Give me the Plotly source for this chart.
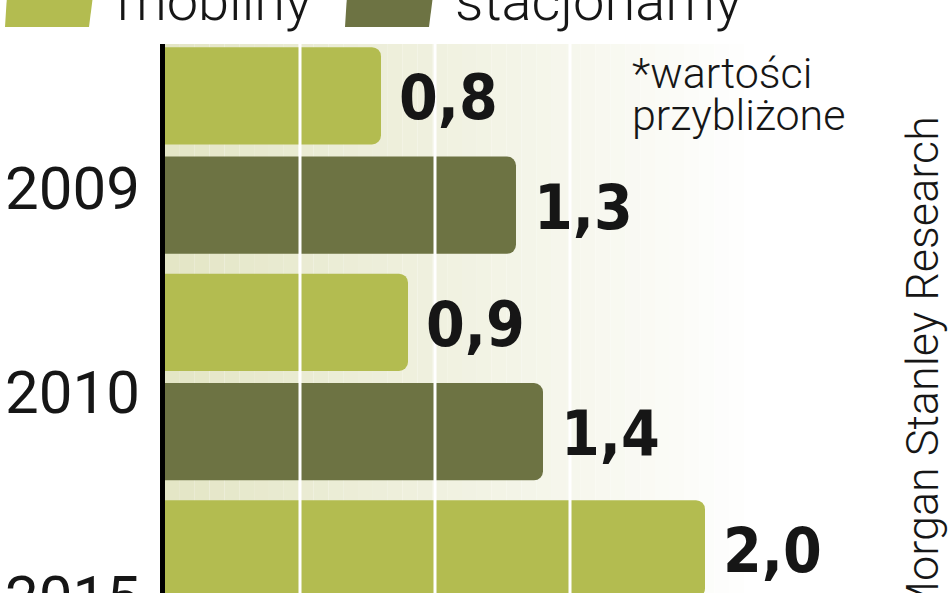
import plotly.graph_objects as go

# ---- data ----
years = ["2009", "2010", "2015"]
mobilny = [0.8, 0.9, 2.0]
stacjonarny = [1.3, 1.4, None]  # 2015 value lies outside the visible crop
series_names = ["mobilny", "stacjonarny"]
note_lines = ["*wartości", "przybliżone"]
source_text = "Morgan Stanley Research"
grid_values = [0.5, 1.0, 1.5]

# ---- layout constants ----
W, H = 948, 593
ML, MR, MT, MB = 165, 0, 44, 0
PW, PH = W - ML - MR, H - MT - MB
PX_PER_UNIT_X = 270.0
PX_PER_CAT = 226.5
TOP_OFFSET = 106.5  # px from plot top to first category centre
BARGAP, BARGROUPGAP = 0.035, 0.11

C_MOB = "#b3bc50"
C_STA = "#6d7343"
TXT = "#161616"
LIGHT_FONT = "Roboto, 'Open Sans', 'DejaVu Sans', sans-serif"
BOLD_FONT = "'Liberation Sans Narrow', 'DejaVu Sans Condensed', 'Roboto Condensed', sans-serif"


def px2paper_x(px):
    return (px - ML) / PW


def px2paper_y(py):
    return 1 - (py - MT) / PH


idx = list(range(len(years)))
y_top = -TOP_OFFSET / PX_PER_CAT
y_bot = y_top + PH / PX_PER_CAT

fig = go.Figure()
fig.add_trace(go.Bar(y=idx, x=mobilny, orientation="h", name=series_names[0],
                     marker=dict(color=C_MOB, cornerradius=9, line=dict(width=0)),
                     showlegend=False, hoverinfo="skip"))
fig.add_trace(go.Bar(y=idx, x=stacjonarny, orientation="h", name=series_names[1],
                     marker=dict(color=C_STA, cornerradius=9, line=dict(width=0)),
                     showlegend=False, hoverinfo="skip"))

shapes = []
# cream background band fading to white
n_strips = 40
x_end = 2.2
for k in range(n_strips):
    t = k / (n_strips - 1)
    r = int(228 + (255 - 228) * t)
    g = int(230 + (255 - 230) * t)
    b = int(198 + (255 - 198) * t)
    shapes.append(dict(type="rect", xref="x", yref="paper",
                       x0=x_end * k / n_strips, x1=x_end * (k + 1) / n_strips,
                       y0=0, y1=1, fillcolor=f"rgb({r},{g},{b})",
                       line=dict(width=0), layer="below"))
# white grid lines on top of bars
for gv in grid_values:
    shapes.append(dict(type="line", xref="x", yref="paper", x0=gv, x1=gv,
                       y0=0, y1=1, line=dict(color="white", width=3), layer="above"))


# legend swatches (parallelograms)
def swatch(x_left, color):
    pts = [(x_left + 3, -20), (x_left + 90, -20), (x_left + 84, 27), (x_left, 27)]
    path = "M " + " L ".join(f"{px2paper_x(a):.5f},{px2paper_y(b):.5f}" for a, b in pts) + " Z"
    return dict(type="path", xref="paper", yref="paper", path=path,
                fillcolor=color, line=dict(width=0), layer="above")


shapes.append(swatch(5, C_MOB))
shapes.append(swatch(345, C_STA))

annotations = []
# legend texts
for name, xpx in zip(series_names, [115, 453]):
    annotations.append(dict(text=name, xref="paper", yref="paper",
                            x=px2paper_x(xpx), y=px2paper_y(36), xanchor="left", yanchor="bottom",
                            showarrow=False, font=dict(family=LIGHT_FONT, size=56, color=TXT, weight=300)))
# year labels
for yr, ypx in zip(years, [188, 392, 597]):
    annotations.append(dict(text=yr, xref="paper", yref="paper",
                            x=px2paper_x(142), y=px2paper_y(ypx), xanchor="right", yanchor="middle",
                            showarrow=False, font=dict(family=LIGHT_FONT, size=60, color=TXT)))
# value labels
slot = 1 - BARGAP
offsets = [-slot / 4, slot / 4]
for series, off in zip([mobilny, stacjonarny], offsets):
    for i, v in zip(idx, series):
        if v is None:
            continue
        annotations.append(dict(text=f"{v:.1f}".replace(".", ","), xref="x", yref="y",
                                x=v, y=i + off, xanchor="left", yanchor="middle", xshift=16, yshift=-2,
                                showarrow=False,
                                font=dict(family=BOLD_FONT, size=62, color=TXT, weight="bold")))
# note
for line, ypx in zip(note_lines, [73, 115]):
    annotations.append(dict(text=line, xref="paper", yref="paper",
                            x=px2paper_x(630), y=px2paper_y(ypx), xanchor="left", yanchor="middle",
                            showarrow=False, font=dict(family=LIGHT_FONT, size=43, color=TXT, weight=300)))
# source (vertical)
annotations.append(dict(text=source_text, xref="paper", yref="paper", textangle=-90,
                        x=px2paper_x(922), y=px2paper_y(114), xanchor="center", yanchor="top",
                        showarrow=False, font=dict(family=LIGHT_FONT, size=45, color=TXT, weight=300)))

fig.update_layout(
    width=W, height=H,
    margin=dict(l=ML, r=MR, t=MT, b=MB, pad=0),
    paper_bgcolor="white", plot_bgcolor="white",
    barmode="group", bargap=BARGAP, bargroupgap=BARGROUPGAP,
    xaxis=dict(range=[0, PW / PX_PER_UNIT_X], showgrid=False, zeroline=False,
               showticklabels=False, ticks="", showline=False, fixedrange=True),
    yaxis=dict(range=[y_bot, y_top], showgrid=False, zeroline=False,
               showticklabels=False, ticks="", showline=True, linecolor="black",
               linewidth=5, fixedrange=True),
    shapes=shapes, annotations=annotations,
)

fig.write_html("out.html", config={"displayModeBar": False})
